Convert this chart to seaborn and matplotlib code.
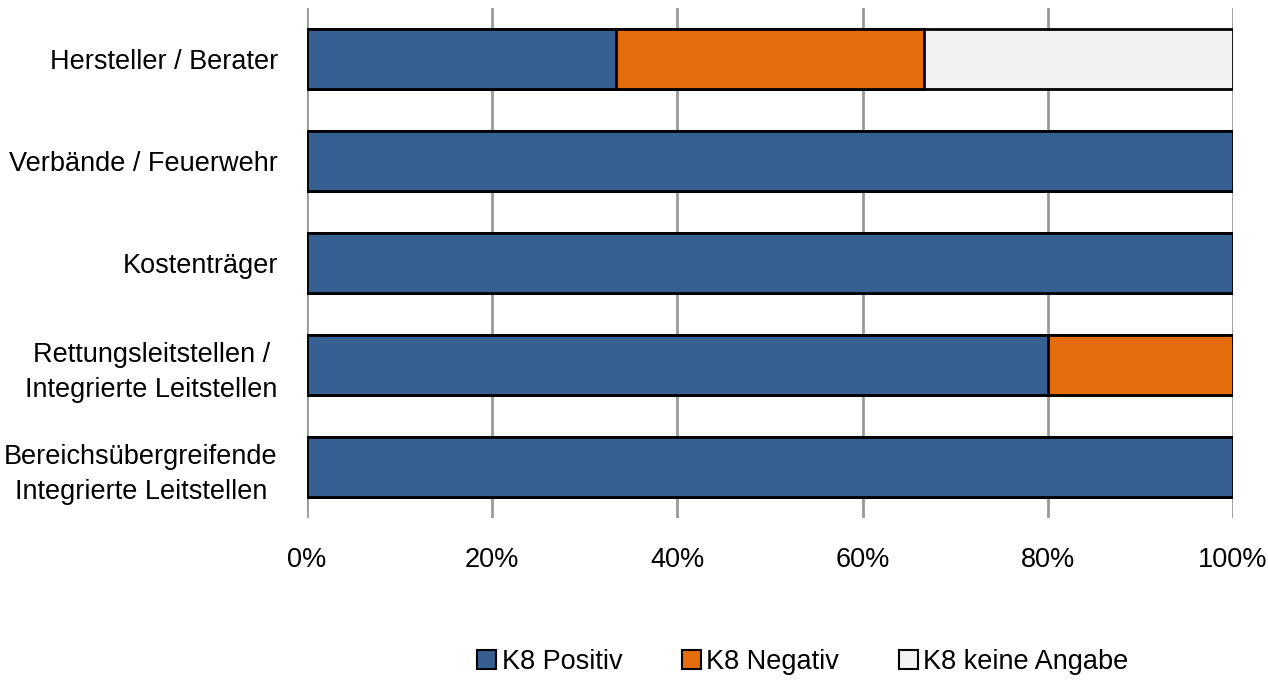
import matplotlib
matplotlib.use("Agg")
import matplotlib.pyplot as plt
from matplotlib.patches import Patch
from matplotlib import font_manager
import seaborn as sns
import pandas as pd
import numpy as np

categories = [
    "Hersteller / Berater",
    "Verbände / Feuerwehr",
    "Kostenträger",
    "Rettungsleitstellen /\nIntegrierte Leitstellen",
    "Bereichsübergreifende\nIntegrierte Leitstellen",
]
positiv = [33.33, 100, 100, 80, 100]
negativ = [33.33, 0, 0, 20, 0]
keine_angabe = [33.34, 0, 0, 0, 0]
series_names = ["K8 Positiv", "K8 Negativ", "K8 keine Angabe"]
colors = ["#376092", "#E46C0A", "#F2F2F2"]
ticks = [0, 20, 40, 60, 80, 100]

sns.set_style("white")
available = {f.name for f in font_manager.fontManager.ttflist}
family = "Liberation Sans Narrow" if "Liberation Sans Narrow" in available else "Liberation Sans"
plt.rcParams["font.family"] = [family, "DejaVu Sans"]
plt.rcParams["text.color"] = "black"
plt.rcParams["xtick.color"] = "black"
plt.rcParams["ytick.color"] = "black"

df = pd.DataFrame({
    "Kategorie": categories,
    "pos": positiv,
    "neg": negativ,
    "ka": keine_angabe,
})
df["cum_pos"] = df["pos"]
df["cum_neg"] = df["pos"] + df["neg"]
df["cum_ka"] = df["cum_neg"] + df["ka"]

fig = plt.figure(figsize=(12.68, 6.8), dpi=100)
ax = fig.add_axes([307 / 1268, 1 - 518 / 680, (1233 - 307) / 1268, 510 / 680])

# stacked bars drawn back to front from cumulative totals
for col, color in zip(["cum_ka", "cum_neg", "cum_pos"], colors[::-1]):
    sns.barplot(data=df, x=col, y="Kategorie", orient="h", color=color,
                width=0.58, edgecolor="black", linewidth=2, saturation=1,
                ax=ax, zorder=3)

ax.set_xlim(0, 100)
ax.set_ylim(4.5, -0.5)
ax.set_xticks(ticks)
ax.set_xticklabels([f"{t}%" for t in ticks], fontsize=19.5)
ax.tick_params(axis="x", length=0, pad=21)
ax.tick_params(axis="y", length=0, pad=21, labelsize=19.5)
for lbl in ax.get_yticklabels():
    lbl.set_horizontalalignment("right")
    lbl.set_multialignment("center")
    lbl.set_linespacing(1.45)
ax.set_xlabel("")
ax.set_ylabel("")
for s in ax.spines.values():
    s.set_visible(False)
ax.grid(axis="x", color="#999999", linewidth=2, zorder=0)
ax.grid(axis="y", visible=False)
ax.set_axisbelow(True)

handles = [Patch(facecolor=c, edgecolor="black", linewidth=1.5) for c in colors]
fig.legend(handles, series_names, loc="center", bbox_to_anchor=(803 / 1268, 1 - 662 / 680),
           ncol=3, frameon=False, fontsize=19.5, handlelength=0.7, handleheight=0.7,
           handletextpad=0.2, columnspacing=2.2)

fig.savefig("out.png", dpi=100)
